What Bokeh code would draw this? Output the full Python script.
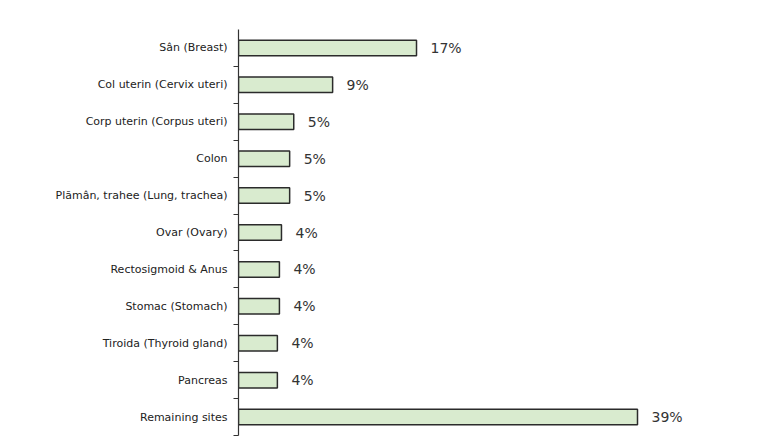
from bokeh.plotting import figure
from bokeh.models import Range1d, FixedTicker, ColumnDataSource
from bokeh.core.properties import value
from bokeh.embed import file_html
from bokeh.resources import INLINE

sites = [
    "Sân (Breast)",
    "Col uterin (Cervix uteri)",
    "Corp uterin (Corpus uteri)",
    "Colon",
    "Plămân, trahee (Lung, trachea)",
    "Ovar (Ovary)",
    "Rectosigmoid & Anus",
    "Stomac (Stomach)",
    "Tiroida (Thyroid gland)",
    "Pancreas",
    "Remaining sites",
]
shares = [17.4, 9.2, 5.4, 5.0, 5.0, 4.2, 4.0, 4.0, 3.8, 3.8, 39.0]
share_labels = ["17%", "9%", "5%", "5%", "5%", "4%", "4%", "4%", "4%", "4%", "39%"]

n = len(sites)
pos = [i + 0.5 for i in range(n)]
src = ColumnDataSource(dict(y=pos, v=shares, lab=share_labels))

p = figure(width=770, height=438, output_backend="svg", toolbar_location=None,
           x_range=Range1d(0, 52.0), y_range=Range1d(n, 0),
           min_border_left=238, min_border_top=29, min_border_bottom=3,
           min_border_right=0)
p.outline_line_color = None
p.xgrid.visible = False
p.ygrid.visible = False
p.xaxis.visible = False

p.hbar(y="y", right="v", left=0, height=0.42, source=src,
       fill_color="#d9ebcf", line_color="#2b2b2b", line_width=1.5)
p.text(x="v", y="y", text="lab", source=src, x_offset=14,
       text_baseline="middle", text_align="left",
       text_font=value("DejaVu Sans"), text_font_size="14px", text_color="#333333")

ax = p.yaxis[0]
ax.ticker = FixedTicker(ticks=pos, minor_ticks=list(range(1, n + 1)))
ax.major_label_overrides = {p_: s for p_, s in zip(pos, sites)}
ax.major_tick_line_color = None
ax.major_tick_out = 0
ax.major_tick_in = 0
ax.minor_tick_line_color = "#333333"
ax.minor_tick_out = 5
ax.minor_tick_in = 0
ax.axis_line_color = "#333333"
ax.axis_line_width = 1.2
ax.major_label_standoff = 6
ax.major_label_text_font = "DejaVu Sans"
ax.major_label_text_font_size = "11px"
ax.major_label_text_color = "#222222"

open("out.html", "w").write(file_html(p, INLINE))
